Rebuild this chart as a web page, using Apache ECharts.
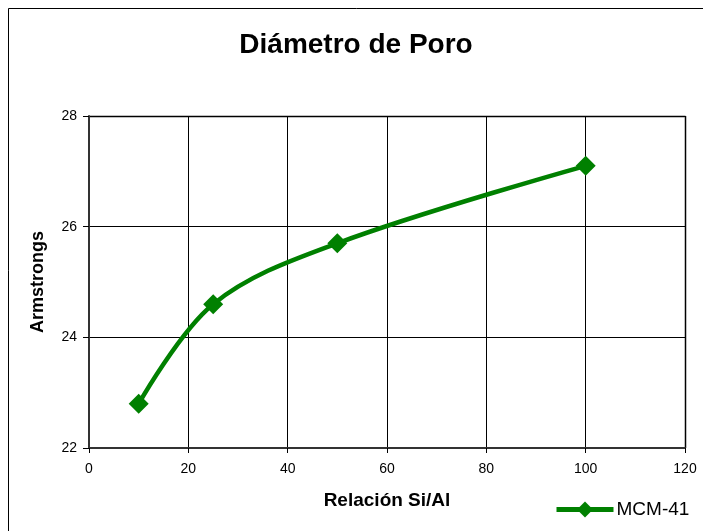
<!DOCTYPE html>
<html>
<head>
<meta charset="utf-8">
<script src="https://cdn.jsdelivr.net/npm/echarts@6/dist/echarts.min.js"></script>
<style>
html,body{margin:0;padding:0;background:#fff;}
#chart{width:703px;height:531px;}
</style>
</head>
<body>
<div id="chart"></div>
<script>
var siAl = [10, 25, 50, 100];
var armstrongs = [22.8, 24.6, 25.7, 27.1];
var seriesName = 'MCM-41';
var titleText = 'Diámetro de Poro';
var xName = 'Relación Si/Al';
var yName = 'Armstrongs';

var chart = echarts.init(document.getElementById('chart'));
var font = 'Arial, "Liberation Sans", sans-serif';
chart.setOption({
  animation: false,
  backgroundColor: '#fff',
  title: {
    text: titleText,
    left: 351, top: 26, textAlign: 'center',
    textStyle: {fontFamily: font, fontSize: 28, fontWeight: 'bold', color: '#000'}
  },
  graphic: [{
    type: 'rect', silent: true,
    shape: {x: 8.5, y: 8.5, width: 800, height: 600},
    style: {fill: 'none', stroke: '#000', lineWidth: 1}
  }, {
    type: 'line', silent: true, z: 0,
    shape: {x1: 89, y1: 116.5, x2: 685.5, y2: 116.5},
    style: {stroke: '#808080', lineWidth: 2}
  }, {
    type: 'line', silent: true, z: 0,
    shape: {x1: 685.5, y1: 116, x2: 685.5, y2: 448},
    style: {stroke: '#808080', lineWidth: 2}
  }],
  legend: {
    data: [seriesName],
    left: 549, top: 495,
    itemWidth: 57, itemHeight: 20, itemGap: 3,
    lineStyle: {width: 5},
    textStyle: {fontFamily: font, fontSize: 19, color: '#000', padding: [2,0,0,-2]}
  },
  grid: {left: 89, top: 116, width: 596, height: 332, containLabel: false},
  xAxis: {
    type: 'value', min: 0, max: 120, interval: 20,
    name: xName, nameLocation: 'middle', nameGap: 43,
    nameTextStyle: {fontFamily: font, fontSize: 19, fontWeight: 'bold', color: '#000'},
    axisLine: {show: true, lineStyle: {color: '#333', width: 2}},
    axisTick: {show: true, length: 5, lineStyle: {color: '#000'}},
    axisLabel: {fontFamily: font, fontSize: 14, color: '#000', margin: 14},
    splitLine: {show: true, lineStyle: {color: '#000', width: 1}}
  },
  yAxis: {
    type: 'value', min: 22, max: 28, interval: 2,
    name: yName, nameLocation: 'middle', nameGap: 42, nameRotate: 90,
    nameTextStyle: {fontFamily: font, fontSize: 18, fontWeight: 'bold', color: '#000'},
    axisLine: {show: true, lineStyle: {color: '#333', width: 2}},
    axisTick: {show: true, length: 6, lineStyle: {color: '#000'}},
    axisLabel: {fontFamily: font, fontSize: 14, color: '#000', margin: 12},
    splitLine: {show: true, lineStyle: {color: '#000', width: 1}}
  },
  series: [{
    name: seriesName,
    type: 'line',
    data: siAl.map(function(x, i){ return [x, armstrongs[i]]; }),
    smooth: 0.35,
    symbol: 'diamond', symbolSize: 20,
    lineStyle: {color: '#008000', width: 4.5},
    itemStyle: {color: '#008000'},
    z: 5
  }]
});
</script>
</body>
</html>
